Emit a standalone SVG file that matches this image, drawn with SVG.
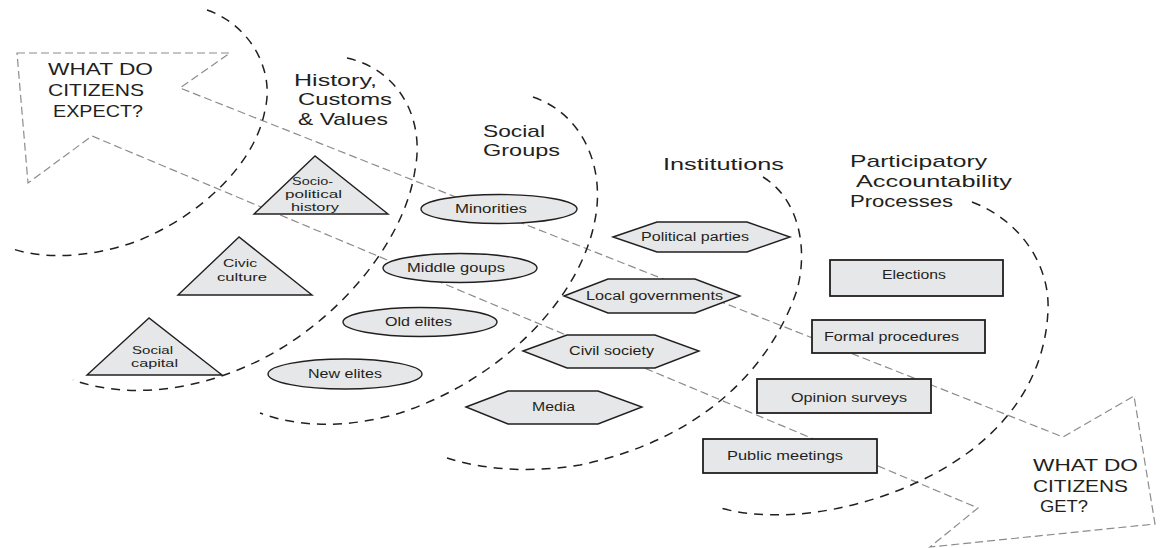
<svg xmlns="http://www.w3.org/2000/svg" width="1160" height="548" viewBox="0 0 1160 548">
<style>
.bg{fill:#ffffff}
.arc{fill:none;stroke:#231f20;stroke-width:1.5;stroke-dasharray:9 7}
.arrow{fill:none;stroke:#8c8c8c;stroke-width:1.2;stroke-dasharray:8 4}
.shape{fill:#e6e7e8;stroke:#231f20;stroke-width:1.4}
.box{fill:#e6e7e8;stroke:#231f20;stroke-width:1.8}
.t{font-family:"Liberation Sans",Arial,sans-serif;fill:#231f20}
.n{font-size:12.5px}
.m{font-size:11.5px}
.h{font-size:17px}
.w{font-size:17px}
</style>
<rect class="bg" x="0" y="0" width="1160" height="548"/>
<g id="connectors">
<path class="arrow" d="M17,53 L230,53 L180,88 L1063,437 L1134,396 L1155,524 L930,547 L978,508 L92,136 L28,183 Z"/>
<path class="arc" d="M207,10 C250,25 275,70 265,110 C255,165 200,215 140,240 C100,255 50,262 10,248"/>
<path class="arc" d="M347,58 C400,70 425,120 415,170 C405,240 340,320 260,360 C200,390 130,400 73,380"/>
<path class="arc" d="M533,97 C585,115 605,170 595,220 C580,300 500,380 400,413 C350,428 300,428 260,413"/>
<path class="arc" d="M763,177 C800,200 808,250 797,290 C770,370 700,440 580,465 C530,473 485,470 447,458"/>
<path class="arc" d="M972,202 C1020,220 1050,265 1048,310 C1045,390 990,460 880,497 C820,517 760,520 717,507"/>
</g>
<g id="labels">
<text class="t w" x="48" y="75" textLength="105" lengthAdjust="spacingAndGlyphs">WHAT DO</text>
<text class="t w" x="48" y="96" textLength="96" lengthAdjust="spacingAndGlyphs">CITIZENS</text>
<text class="t w" x="53" y="117" textLength="90" lengthAdjust="spacingAndGlyphs">EXPECT?</text>
<text class="t h" x="294" y="86" textLength="83" lengthAdjust="spacingAndGlyphs">History,</text>
<text class="t h" x="298" y="105" textLength="94" lengthAdjust="spacingAndGlyphs">Customs</text>
<text class="t h" x="298" y="125" textLength="90" lengthAdjust="spacingAndGlyphs">&amp; Values</text>
<text class="t h" x="483" y="137" textLength="62" lengthAdjust="spacingAndGlyphs">Social</text>
<text class="t h" x="483" y="156" textLength="77" lengthAdjust="spacingAndGlyphs">Groups</text>
<text class="t h" x="663" y="170" textLength="121" lengthAdjust="spacingAndGlyphs">Institutions</text>
<text class="t h" x="850" y="167" textLength="137" lengthAdjust="spacingAndGlyphs">Participatory</text>
<text class="t h" x="856" y="187" textLength="156" lengthAdjust="spacingAndGlyphs">Accountability</text>
<text class="t h" x="850" y="207" textLength="103" lengthAdjust="spacingAndGlyphs">Processes</text>
<text class="t w" x="1033" y="471" textLength="105" lengthAdjust="spacingAndGlyphs">WHAT DO</text>
<text class="t w" x="1033" y="492" textLength="95" lengthAdjust="spacingAndGlyphs">CITIZENS</text>
<text class="t w" x="1040" y="512" textLength="48" lengthAdjust="spacingAndGlyphs">GET?</text>
</g>
<g id="socio-political-history">
<polygon class="shape" points="315,156 254,214 388,214"/>
<text class="t m" x="292" y="185" textLength="41" lengthAdjust="spacingAndGlyphs">Socio-</text>
<text class="t m" x="285" y="198" textLength="57" lengthAdjust="spacingAndGlyphs">political</text>
<text class="t m" x="291" y="211" textLength="48" lengthAdjust="spacingAndGlyphs">history</text>
</g>
<g id="civic-culture">
<polygon class="shape" points="239,237 178,295 312,295"/>
<text class="t m" x="223" y="267" textLength="34" lengthAdjust="spacingAndGlyphs">Civic</text>
<text class="t m" x="217" y="281" textLength="50" lengthAdjust="spacingAndGlyphs">culture</text>
</g>
<g id="social-capital">
<polygon class="shape" points="149,318 87,375 222,375"/>
<text class="t m" x="132" y="354" textLength="41" lengthAdjust="spacingAndGlyphs">Social</text>
<text class="t m" x="131" y="367" textLength="47" lengthAdjust="spacingAndGlyphs">capital</text>
</g>
<g id="minorities">
<ellipse class="shape" cx="499" cy="209" rx="78" ry="14.5"/>
<text class="t n" x="455" y="213" textLength="72" lengthAdjust="spacingAndGlyphs">Minorities</text>
</g>
<g id="middle-goups">
<ellipse class="shape" cx="460" cy="268" rx="77" ry="14.5"/>
<text class="t n" x="407" y="272" textLength="98" lengthAdjust="spacingAndGlyphs">Middle goups</text>
</g>
<g id="old-elites">
<ellipse class="shape" cx="420" cy="322" rx="77" ry="14.5"/>
<text class="t n" x="385" y="326" textLength="67" lengthAdjust="spacingAndGlyphs">Old elites</text>
</g>
<g id="new-elites">
<ellipse class="shape" cx="345" cy="374" rx="77" ry="15"/>
<text class="t n" x="308" y="378" textLength="74" lengthAdjust="spacingAndGlyphs">New elites</text>
</g>
<g id="political-parties">
<polygon class="shape" points="613,237 657,222 747,222 790,237 747,252 657,252"/>
<text class="t n" x="641" y="241" textLength="108" lengthAdjust="spacingAndGlyphs">Political parties</text>
</g>
<g id="local-governments">
<polygon class="shape" points="564,296 608,279 695,279 740,296 695,313 608,313"/>
<text class="t n" x="586" y="300" textLength="137" lengthAdjust="spacingAndGlyphs">Local governments</text>
</g>
<g id="civil-society">
<polygon class="shape" points="523,351 567,335 655,335 699,351 655,368 567,368"/>
<text class="t n" x="569" y="355" textLength="85" lengthAdjust="spacingAndGlyphs">Civil society</text>
</g>
<g id="media">
<polygon class="shape" points="466,407 508,391 598,391 642,407 598,424 508,424"/>
<text class="t n" x="532" y="411" textLength="43" lengthAdjust="spacingAndGlyphs">Media</text>
</g>
<g id="elections">
<rect class="box" x="830" y="260" width="173" height="36"/>
<text class="t n" x="882" y="279" textLength="64" lengthAdjust="spacingAndGlyphs">Elections</text>
</g>
<g id="formal-procedures">
<rect class="box" x="812" y="320" width="173" height="33"/>
<text class="t n" x="824" y="341" textLength="135" lengthAdjust="spacingAndGlyphs">Formal procedures</text>
</g>
<g id="opinion-surveys">
<rect class="box" x="757" y="379" width="174" height="34"/>
<text class="t n" x="791" y="402" textLength="116" lengthAdjust="spacingAndGlyphs">Opinion surveys</text>
</g>
<g id="public-meetings">
<rect class="box" x="703" y="439" width="174" height="34"/>
<text class="t n" x="727" y="460" textLength="116" lengthAdjust="spacingAndGlyphs">Public meetings</text>
</g>
</svg>
